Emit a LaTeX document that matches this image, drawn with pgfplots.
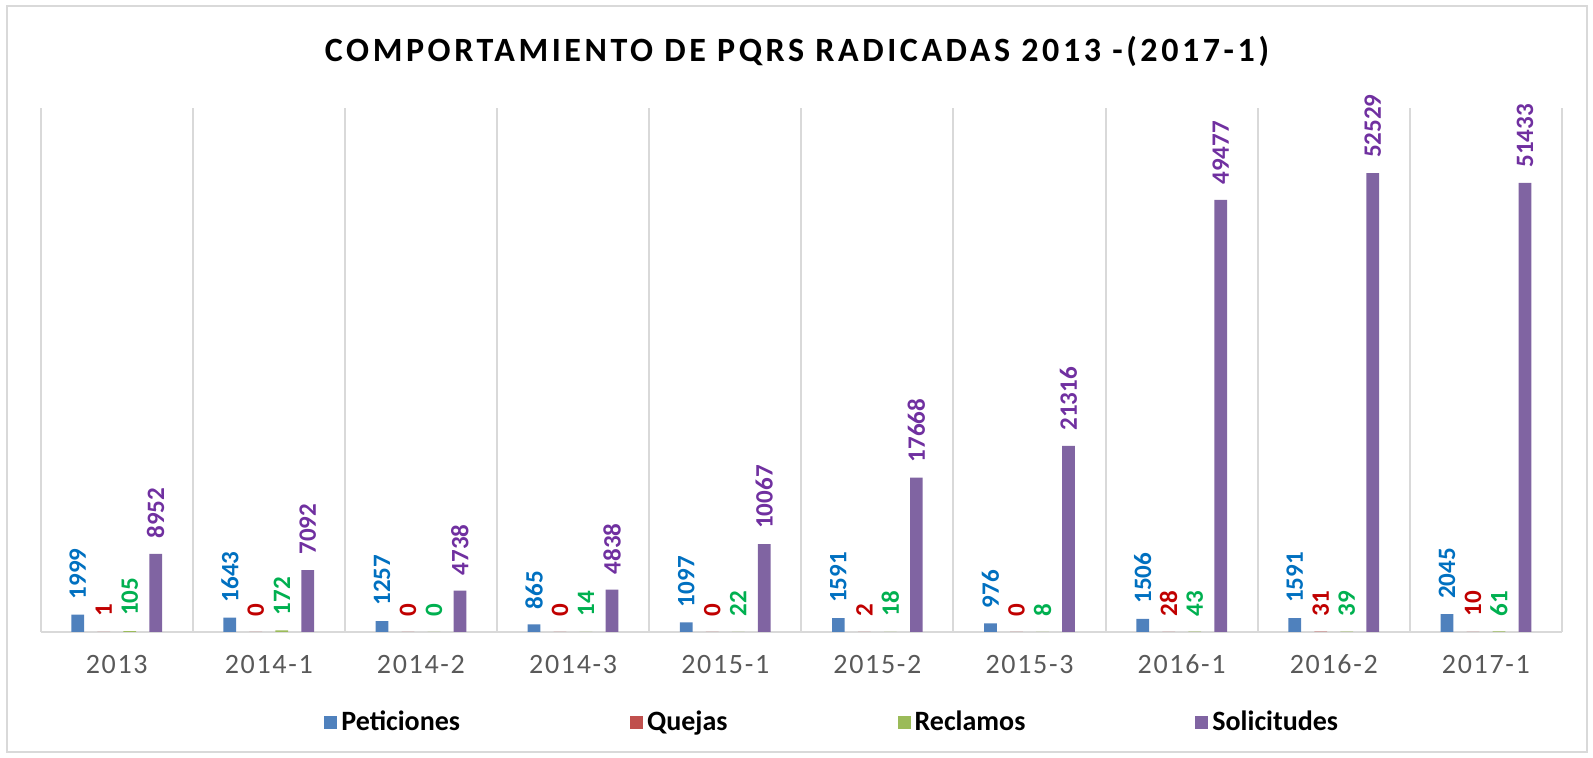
\documentclass[border=0pt]{standalone}
\usepackage{pgfplots}
\pgfplotsset{compat=1.18}
\usepackage{fontspec}
\setmainfont{Carlito}
\definecolor{cPet}{HTML}{4F81BD}
\definecolor{cQue}{HTML}{C0504D}
\definecolor{cRec}{HTML}{9BBB59}
\definecolor{cSol}{HTML}{8064A2}
\definecolor{lPet}{HTML}{0070C0}
\definecolor{lQue}{HTML}{C00000}
\definecolor{lRec}{HTML}{00B050}
\definecolor{lSol}{HTML}{7030A0}
\definecolor{gridg}{HTML}{D9D9D9}
\definecolor{tickg}{HTML}{595959}
\begin{document}
\begin{tikzpicture}
\path[use as bounding box] (0,0) rectangle (796.5pt,379pt);
\draw[gridg, line width=1pt] (3.5pt,3pt) rectangle (793.5pt,376pt);
\node[font=\bfseries\fontsize{17}{19}\selectfont\addfontfeature{LetterSpace=10.5}] at (398.5pt,353.5pt) {COMPORTAMIENTO DE PQRS RADICADAS 2013 -(2017-1)};
\begin{axis}[
  at={(20.3pt,63pt)}, anchor=south west,
  scale only axis, width=760.7pt, height=262pt,
  xmin=-0.5, xmax=9.5, ymin=0, ymax=60000,
  clip=false,
  axis x line=bottom, axis y line=none,
  x axis line style={-, gridg, line width=1pt},
  xtick={0,...,9},
  xticklabels={2013,2014-1,2014-2,2014-3,2015-1,2015-2,2015-3,2016-1,2016-2,2017-1},
  xticklabel style={font=\fontsize{14}{16}\selectfont\addfontfeature{LetterSpace=6}, text=tickg, yshift=-8pt},
  major tick length=0pt, minor tick length=0pt,
  minor xtick={-0.5,0.5,...,9.5},
  xminorgrids=true,
  minor grid style={gridg, line width=1pt},
  ytick=\empty,
  ybar=6.65pt, bar width=6.35pt,
  nodes near coords,
  /pgf/number format/.cd, 1000 sep={}, assume math mode=true, /pgfplots/.cd,
  every node near coord/.append style={rotate=90, anchor=west, inner xsep=7.5pt, inner ysep=0pt, font=\bfseries\fontsize{12.5}{14}\selectfont},
  legend columns=4,
  legend style={draw=none, at={(0.521,-0.172)}, anchor=center, font=\bfseries\fontsize{14}{16}\selectfont, /tikz/every even column/.append style={column sep=83pt}},
  legend image code/.code={\fill[#1] (0pt,-3.5pt) rectangle (6.5pt,3pt);},
]
\addplot[fill=cPet, draw=none, every node near coord/.append style={text=lPet}] coordinates {(0,1999) (1,1643) (2,1257) (3,865) (4,1097) (5,1591) (6,976) (7,1506) (8,1591) (9,2045)};
\addplot[fill=cQue, draw=none, every node near coord/.append style={text=lQue}] coordinates {(0,1) (1,0) (2,0) (3,0) (4,0) (5,2) (6,0) (7,28) (8,31) (9,10)};
\addplot[fill=cRec, draw=none, every node near coord/.append style={text=lRec}] coordinates {(0,105) (1,172) (2,0) (3,14) (4,22) (5,18) (6,8) (7,43) (8,39) (9,61)};
\addplot[fill=cSol, draw=none, every node near coord/.append style={text=lSol}] coordinates {(0,8952) (1,7092) (2,4738) (3,4838) (4,10067) (5,17668) (6,21316) (7,49477) (8,52529) (9,51433)};
\legend{Peticiones,Quejas,Reclamos,Solicitudes}
\end{axis}
\end{tikzpicture}
\end{document}
